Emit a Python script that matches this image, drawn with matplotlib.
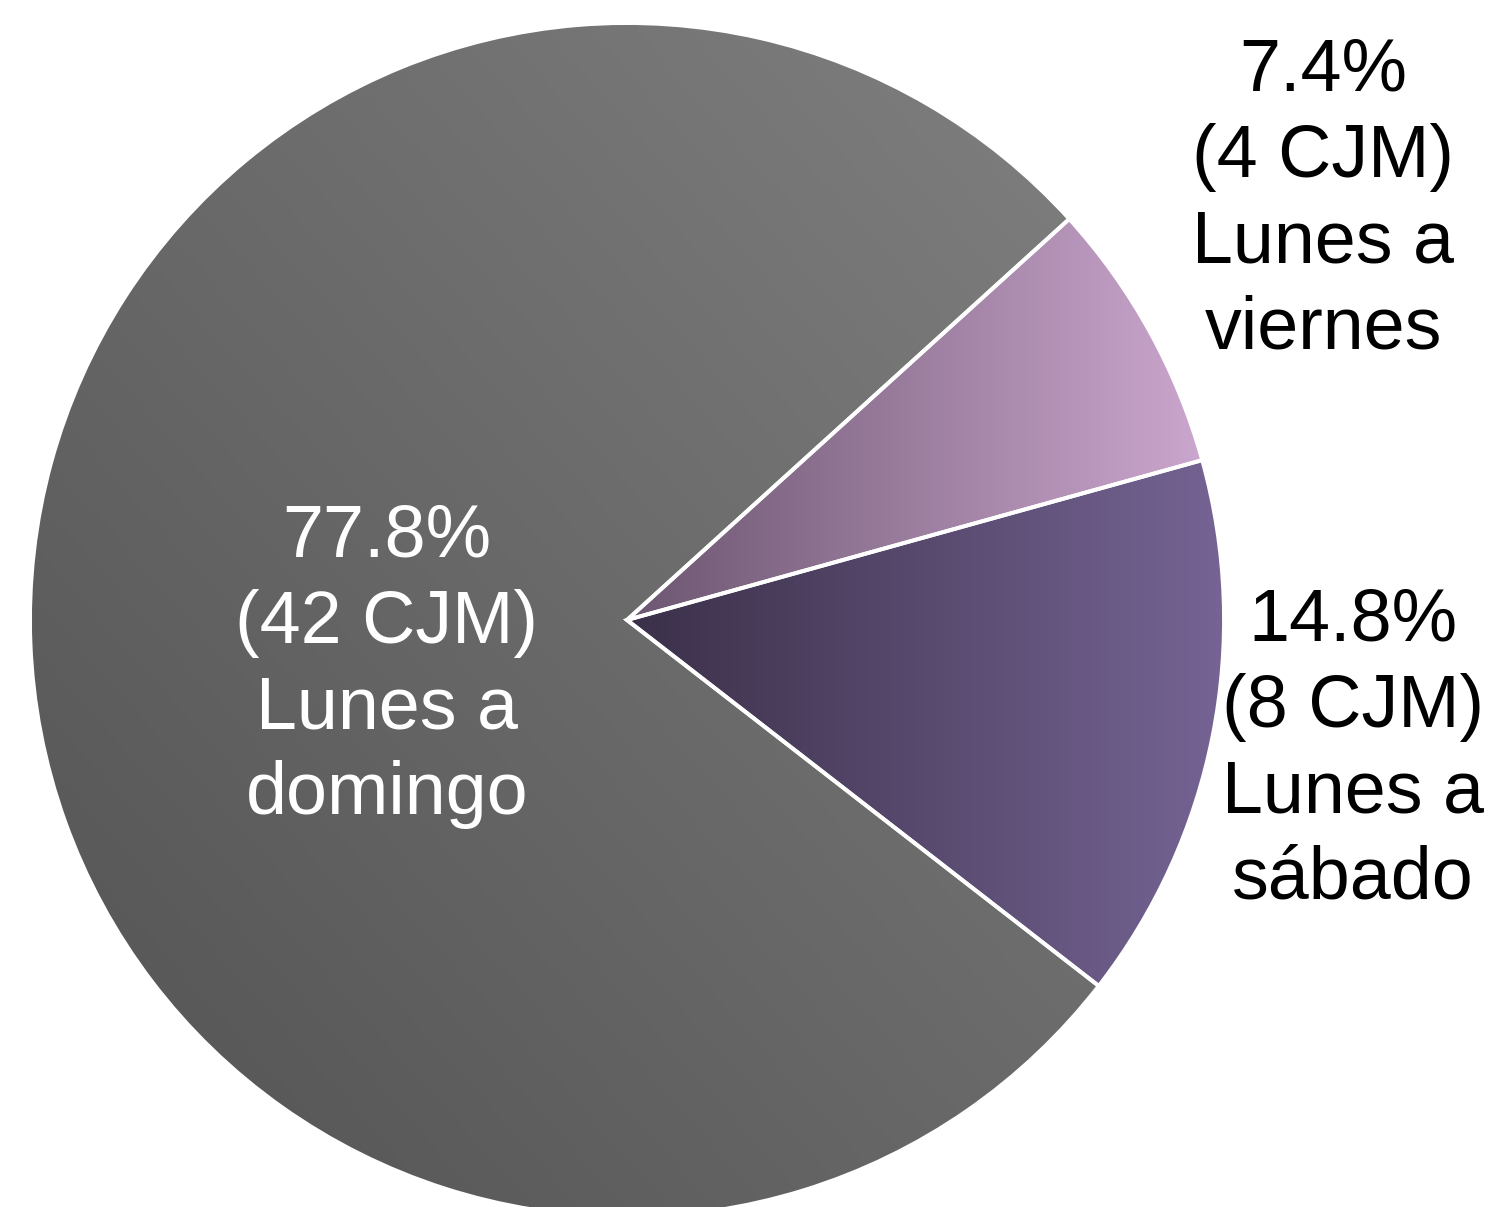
import numpy as np
import matplotlib
matplotlib.use("Agg")
import matplotlib.pyplot as plt
from matplotlib.colors import to_rgb

# ============== Data ==============
categories = ["Lunes a sábado", "Lunes a viernes", "Lunes a domingo"]
counts = [8, 4, 42]
percents = [14.8, 7.4, 77.8]

# ============== Layout (pixels, origin top-left) ==============
W, H = 1496, 1207
cx, cy, R = 627, 620, 597
start_angle = -37.8

# gradient (start colour, end colour, direction) per slice
grads = [
    ("#3b3049", "#756494", (1, 0)),
    ("#6c5670", "#cba6ce", (1, 0)),
    ("#525252", "#808080", (1, 1)),
]
label_pos = [(1353, 750), (1323, 200), (387, 666)]
label_col = ["black", "black", "white"]

fig = plt.figure(figsize=(W / 100, H / 100), dpi=100)
ax = fig.add_axes([0, 0, 1, 1])

wedges, _ = ax.pie(counts, startangle=start_angle, counterclock=True,
                   center=(cx, H - cy), radius=R,
                   wedgeprops=dict(edgecolor="white", linewidth=2.8,
                                   facecolor="none"))

for w, (c0, c1, d) in zip(wedges, grads):
    w.set_zorder(3)
    bb = w.get_path().get_extents(w.get_patch_transform())
    x0, x1, y0, y1 = bb.x0, bb.x1, bb.y0, bb.y1
    xs = np.linspace(0, 1, 300)
    ys = np.linspace(0, 1, 300)
    X, Y = np.meshgrid(xs, ys)
    t = (X * d[0] + Y * d[1]) / (d[0] + d[1])
    a, b = np.array(to_rgb(c0)), np.array(to_rgb(c1))
    img = a + (b - a) * t[..., None]
    im = ax.imshow(img, extent=(x0, x1, y0, y1), origin="lower",
                   interpolation="bilinear", zorder=2, aspect="auto")
    im.set_clip_path(w)

for cat, n, p, (lx, ly), col in zip(categories, counts, percents, label_pos, label_col):
    txt = f"{p}%\n({n} CJM)\n" + cat.replace(" a ", " a\n")
    ax.text(lx, H - ly, txt, ha="center", va="center", multialignment="center",
            fontsize=53, color=col, family=["Liberation Sans", "DejaVu Sans"],
            linespacing=1.31, zorder=5)

ax.set_xlim(0, W)
ax.set_ylim(0, H)
ax.set_aspect("equal")
ax.axis("off")

fig.savefig("out.png", dpi=100)
